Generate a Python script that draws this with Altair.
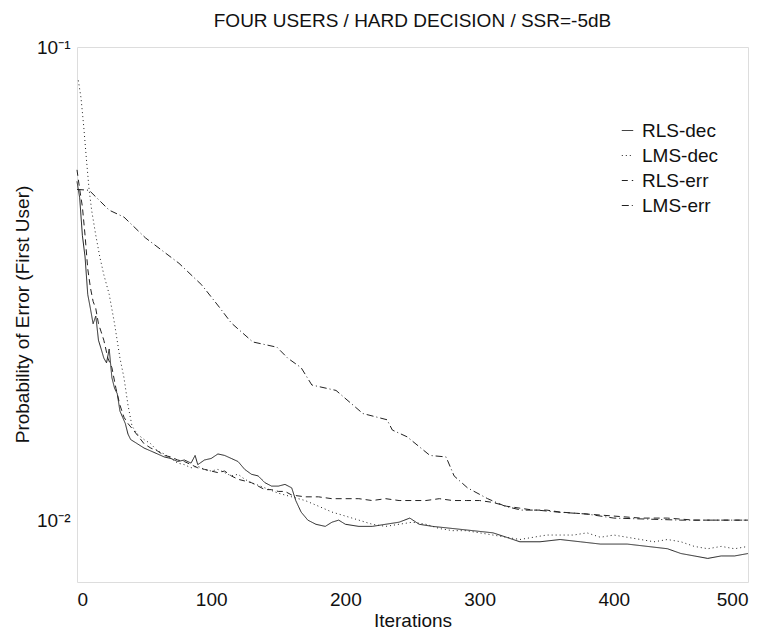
import altair as alt
import pandas as pd

SERIES = ["RLS-dec", "LMS-dec", "RLS-err", "LMS-err"]

rls_dec_it = [0, 2, 4, 6, 8, 10, 12, 14, 16, 18, 20, 22, 24, 26, 28, 30, 32, 34, 36, 38, 40, 45, 50, 55, 60,
              65, 70, 75, 80, 85, 88, 90, 95, 100, 105, 110, 115, 120, 125, 130, 135, 140, 145, 150, 155, 160,
              163, 167, 172, 178, 185, 190, 195, 200, 210, 220, 230, 240, 248, 255, 265, 280, 295, 310, 320,
              330, 345, 360, 375, 390, 410, 425, 440, 450, 460, 470, 480, 490, 500]
rls_dec_val = [0.052, 0.048, 0.040, 0.036, 0.030, 0.028, 0.026, 0.027, 0.024, 0.023, 0.022, 0.0215, 0.023,
               0.020, 0.019, 0.0185, 0.0170, 0.0165, 0.0160, 0.0152, 0.0148, 0.0145, 0.0142, 0.0140, 0.0138,
               0.0136, 0.0135, 0.0133, 0.0134, 0.0132, 0.0137, 0.0131, 0.0134, 0.0135, 0.0138, 0.0137, 0.0135,
               0.0133, 0.0128, 0.0125, 0.0124, 0.0120, 0.0118, 0.0118, 0.0119, 0.0117, 0.0110, 0.0104, 0.0100,
               0.0098, 0.0097, 0.0099, 0.0100, 0.0098, 0.0097, 0.0097, 0.0098, 0.0099, 0.0101, 0.0098, 0.0097,
               0.0096, 0.0095, 0.0094, 0.0092, 0.0090, 0.0090, 0.0091, 0.0090, 0.0089, 0.0089, 0.0088, 0.0087,
               0.0085, 0.0084, 0.0083, 0.0084, 0.0084, 0.0085]

lms_dec_it = [1, 3, 5, 7, 9, 11, 14, 17, 20, 24, 28, 32, 35, 38, 41, 45, 50, 55, 60, 65, 70, 75, 80, 85, 90,
              95, 100, 105, 110, 115, 120, 125, 130, 140, 150, 160, 170, 180, 190, 200, 210, 220, 230, 240,
              250, 260, 270, 280, 290, 300, 310, 320, 330, 340, 350, 360, 370, 380, 390, 400, 410, 420, 430,
              440, 450, 460, 470, 480, 490, 500]
lms_dec_val = [0.085, 0.078, 0.068, 0.058, 0.050, 0.045, 0.040, 0.036, 0.033, 0.030, 0.026, 0.022, 0.020,
               0.0175, 0.0158, 0.0152, 0.0148, 0.0145, 0.0140, 0.0138, 0.0135, 0.0132, 0.0131, 0.0129, 0.0130,
               0.0128, 0.0127, 0.0128, 0.0126, 0.0124, 0.0125, 0.0122, 0.0120, 0.0117, 0.0114, 0.0112, 0.0110,
               0.0107, 0.0104, 0.0102, 0.0100, 0.0098, 0.0097, 0.0098, 0.0099, 0.0098, 0.0096, 0.0095, 0.0095,
               0.0094, 0.0093, 0.0092, 0.0091, 0.0092, 0.0093, 0.0093, 0.0093, 0.0094, 0.0092, 0.0093, 0.0092,
               0.0091, 0.0090, 0.0091, 0.0090, 0.0088, 0.0087, 0.0088, 0.0087, 0.0088]

rls_err_it = [0, 2, 4, 6, 8, 10, 12, 14, 16, 18, 20, 23, 26, 29, 32, 35, 38, 42, 46, 50, 55, 60, 65, 70, 75,
              80, 85, 90, 95, 100, 105, 110, 115, 120, 125, 130, 135, 140, 145, 150, 155, 160, 170, 180, 190,
              200, 210, 220, 230, 240, 250, 260, 270, 280, 290, 300, 310, 320, 330, 340, 350, 360, 380, 400,
              420, 440, 460, 480, 500]
rls_err_val = [0.055, 0.050, 0.046, 0.040, 0.034, 0.031, 0.029, 0.028, 0.026, 0.025, 0.024, 0.022, 0.021,
               0.019, 0.0175, 0.0165, 0.0160, 0.0155, 0.0150, 0.0145, 0.0142, 0.0140, 0.0137, 0.0136, 0.0134,
               0.0133, 0.0131, 0.0129, 0.0128, 0.0127, 0.0126, 0.0127, 0.0124, 0.0122, 0.0121, 0.0120, 0.0118,
               0.0116, 0.0116, 0.0115, 0.0115, 0.0113, 0.0112, 0.0112, 0.0111, 0.0111, 0.0111, 0.0110, 0.0111,
               0.0110, 0.0110, 0.0110, 0.0111, 0.0110, 0.0110, 0.0110, 0.0109, 0.0107, 0.0106, 0.0105, 0.0105,
               0.0104, 0.0103, 0.0102, 0.0101, 0.0101, 0.0100, 0.0100, 0.0100]

lms_err_it = [0, 9, 24, 35, 51, 76, 93, 106, 115, 131, 149, 157, 167, 175, 193, 213, 231, 235, 246, 263, 275,
              281, 291, 306, 319, 331, 343, 358, 380, 400, 450, 500]
lms_err_val = [0.050, 0.0498, 0.0452, 0.0437, 0.0395, 0.0349, 0.0314, 0.0282, 0.0261, 0.0238, 0.0232,
               0.0220, 0.0210, 0.0193, 0.0188, 0.0168, 0.0163, 0.0155, 0.0150, 0.0137, 0.0136, 0.0124, 0.0117,
               0.0111, 0.0107, 0.0105, 0.0105, 0.0104, 0.0103, 0.0101, 0.0100, 0.0100]

rows = []
for name, its, vals in [("RLS-dec", rls_dec_it, rls_dec_val), ("LMS-dec", lms_dec_it, lms_dec_val),
                        ("RLS-err", rls_err_it, rls_err_val), ("LMS-err", lms_err_it, lms_err_val)]:
    for i, v in zip(its, vals):
        rows.append({"series": name, "iter": i, "p": v})
df = pd.DataFrame(rows)

FONT = "Liberation Sans"

chart = alt.Chart(df).mark_line(strokeWidth=1, color="#222").encode(
    x=alt.X("iter:Q", scale=alt.Scale(domain=[0, 500], nice=False),
            axis=alt.Axis(values=[0, 100, 200, 300, 400, 500], title="Iterations", grid=False,
                          ticks=False, domain=False, labelPadding=8, labelFontSize=19,
                          titleFontSize=19, titleFontWeight="normal", titleY=29, titleBaseline="top",
                          labelFont=FONT, titleFont=FONT, labelColor="#111", titleColor="#111")),
    y=alt.Y("p:Q", scale=alt.Scale(type="log", domain=[0.0074, 0.1], nice=False),
            axis=alt.Axis(values=[0.01, 0.1], title="Probability of Error (First User)", grid=False,
                          ticks=False, domain=False, labelPadding=7, labelFontSize=19,
                          labelExpr="datum.value > 0.05 ? '10⁻¹' : '10⁻²'",
                          titleFontSize=19, titleFontWeight="normal", titleX=-45, titleY=267,
                          labelFont=FONT, titleFont=FONT, labelColor="#111", titleColor="#111")),
    strokeDash=alt.StrokeDash("series:N", scale=alt.Scale(domain=SERIES,
                              range=[[1, 0], [1, 3], [6, 4], [7, 3, 1, 3]]),
                              legend=alt.Legend(title=None, orient="none", legendX=541, legendY=74,
                                                labelFontSize=19, labelFont=FONT, labelColor="#111",
                                                symbolType="stroke", symbolSize=130,
                                                symbolStrokeColor="#222", symbolStrokeWidth=1,
                                                rowPadding=5, padding=0, labelOffset=5)),
    detail="series:N",
).properties(
    width=671, height=535,
    title=alt.Title("FOUR USERS / HARD DECISION / SSR=-5dB", fontSize=19, fontWeight="normal",
                    font=FONT, color="#111", offset=7, anchor="middle"),
    autosize=alt.AutoSizeParams(type="none"),
    padding={"left": 77, "top": 47, "right": 20, "bottom": 52},
).configure_view(stroke="#444", strokeWidth=1).configure(background="white")

chart.save("out.html", embed_options={"renderer": "svg", "actions": False})
